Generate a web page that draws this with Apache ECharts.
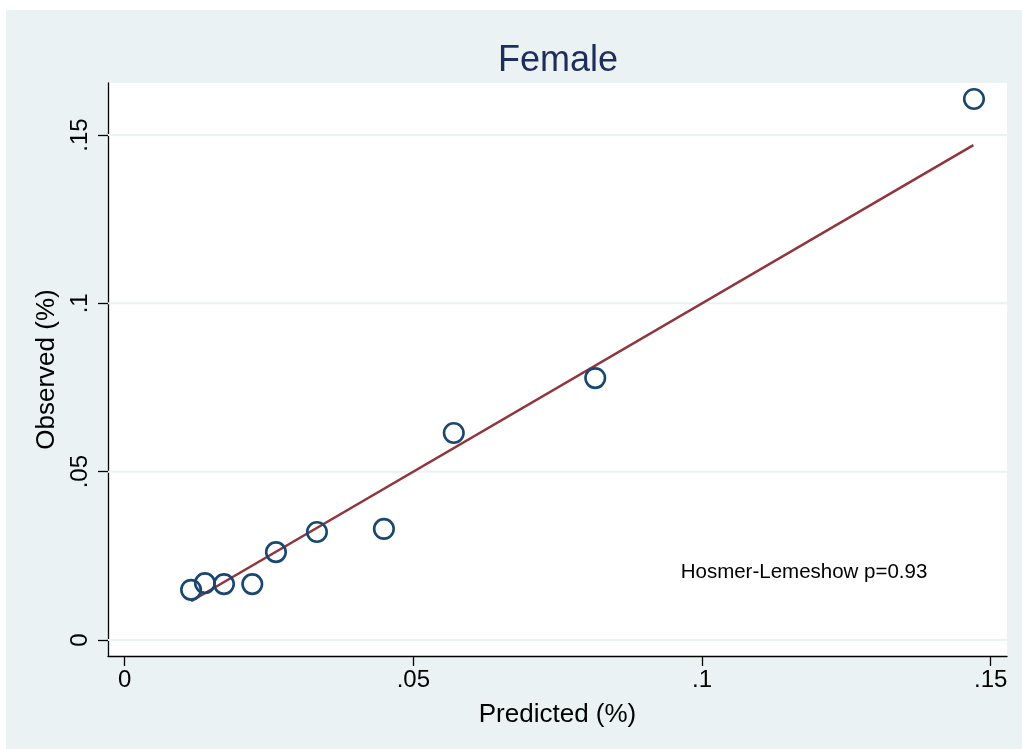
<!DOCTYPE html>
<html>
<head>
<meta charset="utf-8">
<script src="https://cdn.jsdelivr.net/npm/echarts@6/dist/echarts.min.js"></script>
<style>
html,body{margin:0;padding:0;background:#fff;}
#chart{position:absolute;left:6px;top:10px;width:1016px;height:739px;}
</style>
</head>
<body>
<div id="chart"></div>
<script>
// Data
const predicted = [0.0115, 0.0139, 0.0172, 0.0221, 0.0262, 0.0333, 0.0449, 0.0570, 0.0815, 0.1471];
const observed  = [0.0149, 0.0169, 0.0166, 0.0166, 0.0261, 0.0321, 0.0330, 0.0615, 0.0778, 0.1607];
const refLine = [0.0115, 0.147];            // y = x reference line, from min to max predicted
const xTicks = [0, 0.05, 0.1, 0.15];
const xTickLabels = ['0', '.05', '.1', '.15'];
const yTicks = [0, 0.05, 0.1, 0.15];
const yTickLabels = ['0', '.05', '.1', '.15'];
const xRange = [-0.00289, 0.15282];
const yRange = [-0.00475, 0.16545];
const annotation = {x: 0.0963, y: 0.0202, text: 'Hosmer-Lemeshow p=0.93'};

const FONT = '"Liberation Sans", Arial, sans-serif';
const chart = echarts.init(document.getElementById('chart'));

function fmt(list, labels) {
  return function (v) {
    for (let i = 0; i < list.length; i++) if (Math.abs(list[i] - v) < 1e-9) return labels[i];
    return '';
  };
}

const gridSeries = yTicks.map(v => ({
  type: 'line',
  data: [[xRange[0], v], [xRange[1], v]],
  symbol: 'none',
  silent: true,
  z: 1,
  lineStyle: {color: '#EAF2F3', width: 2}
}));

chart.setOption({
  backgroundColor: '#EAF2F3',
  animation: false,
  title: {
    text: 'Female',
    left: 547,
    textAlign: 'center',
    top: 28,
    textStyle: {fontFamily: FONT, fontSize: 36, fontWeight: 'normal', color: '#1E2D5C'}
  },
  grid: {
    left: 102, right: 15, top: 73, bottom: 93,
    show: true, backgroundColor: '#ffffff', borderWidth: 0
  },
  xAxis: {
    type: 'value',
    min: xRange[0], max: xRange[1],
    name: 'Predicted (%)',
    nameLocation: 'middle',
    nameGap: 46,
    nameTextStyle: {fontFamily: FONT, fontSize: 26, color: '#000'},
    axisLine: {show: true, onZero: false, lineStyle: {color: '#000', width: 1.3}},
    axisTick: {show: true, customValues: xTicks, length: 10, lineStyle: {color: '#000', width: 1.3}},
    axisLabel: {customValues: xTicks, formatter: fmt(xTicks, xTickLabels), margin: 12,
      fontFamily: FONT, fontSize: 24, color: '#000'},
    splitLine: {show: false}
  },
  yAxis: {
    type: 'value',
    min: yRange[0], max: yRange[1],
    name: 'Observed (%)',
    nameLocation: 'middle',
    nameGap: 47,
    nameRotate: 90,
    nameTextStyle: {fontFamily: FONT, fontSize: 26, color: '#000'},
    axisLine: {show: true, onZero: false, lineStyle: {color: '#000', width: 1.3}},
    axisTick: {show: true, customValues: yTicks, length: 10, lineStyle: {color: '#000', width: 1.3}},
    axisLabel: {customValues: yTicks, formatter: fmt(yTicks, yTickLabels), rotate: 90, margin: 16,
      fontFamily: FONT, fontSize: 24, color: '#000'},
    splitLine: {show: false}
  },
  series: gridSeries.concat([
    {
      type: 'line',
      data: refLine.map(v => [v, v]),
      symbol: 'none',
      z: 2,
      silent: true,
      lineStyle: {color: '#90353B', width: 2.5}
    },
    {
      type: 'scatter',
      data: predicted.map((p, i) => [p, observed[i]]),
      symbol: 'circle',
      symbolSize: 19.5,
      z: 3,
      itemStyle: {color: 'rgba(255,255,255,0)', borderColor: '#1A476F', borderWidth: 2.6, opacity: 1}
    },
    {
      type: 'scatter',
      data: [[annotation.x, annotation.y]],
      symbolSize: 0,
      z: 4,
      silent: true,
      itemStyle: {opacity: 1},
      label: {
        show: true, position: 'right', distance: 0,
        formatter: annotation.text,
        fontFamily: FONT, fontSize: 20.5, color: '#000'
      }
    }
  ])
});
</script>
</body>
</html>
